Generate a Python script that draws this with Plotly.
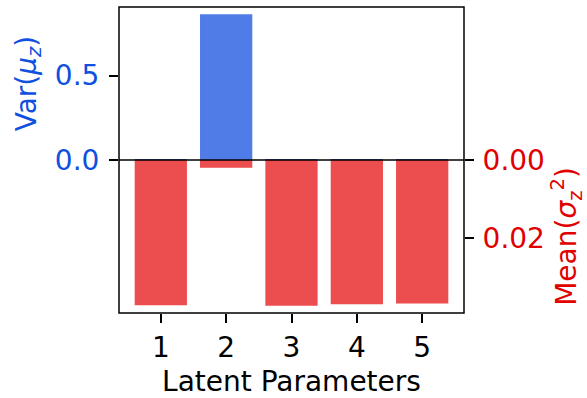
import plotly.graph_objects as go

# Latent dimension indices
latents = [1, 2, 3, 4, 5]
# Variance of the posterior means per latent dimension
var_mu = [0.0004, 0.863, 0.0003, 0.0004, 0.0003]
# Mean posterior variance per latent dimension
mean_sigma2 = [0.0374, 0.0020, 0.0375, 0.0371, 0.0369]

x_tick_labels = ["1", "2", "3", "4", "5"]
left_ticks = [0.0, 0.5]
left_tick_labels = ["0.0", "0.5"]
right_ticks = [0.0, 0.02]
right_tick_labels = ["0.00", "0.02"]

BLUE_BAR = "#507CE8"
RED_BAR = "#EC4D4F"
BLUE_TXT = "#1050E0"
RED_TXT = "#E00000"
FONT = "DejaVu Sans"
TICK_SIZE = 28
TITLE_SIZE = 28

# upper panel: Var(mu) growing upwards; lower panel: Mean(sigma^2) growing downwards
lim_left = max(var_mu) * 1.05
lim_right = max(mean_sigma2) * 1.05

fig = go.Figure()
fig.add_trace(go.Bar(x=latents, y=var_mu, width=0.8, marker=dict(color=BLUE_BAR, line=dict(width=0)),
                     yaxis="y", showlegend=False))
fig.add_trace(go.Bar(x=latents, y=mean_sigma2, width=0.8, marker=dict(color=RED_BAR, line=dict(width=0)),
                     yaxis="y2", showlegend=False))

# outer frame and shared zero line
fig.add_shape(type="rect", xref="paper", yref="paper", x0=0, x1=1, y0=0, y1=1,
              line=dict(color="black", width=1.5), layer="above")
fig.add_shape(type="line", xref="paper", x0=0, x1=1, yref="paper", y0=0.5, y1=0.5,
              line=dict(color="black", width=1.6), layer="above")

fig.update_layout(
    width=587, height=398,
    margin=dict(l=119, r=123, t=7, b=85, autoexpand=False),
    paper_bgcolor="white", plot_bgcolor="white",
    barmode="overlay",
    font=dict(family=FONT, size=TICK_SIZE, color="black"),
    xaxis=dict(
        anchor="free", position=0, automargin=False,
        range=[0.36, 5.64], tickvals=latents, ticktext=x_tick_labels,
        ticks="outside", ticklen=9, tickwidth=1.5, tickcolor="black",
        tickfont=dict(size=TICK_SIZE),
        showline=False, showgrid=False, zeroline=False,
        title=dict(text="Latent Parameters", font=dict(size=TITLE_SIZE), standoff=8),
    ),
    yaxis=dict(
        domain=[0.5, 1.0], automargin=False,
        range=[0, lim_left], tickvals=left_ticks, ticktext=left_tick_labels,
        ticks="outside", ticklen=9, tickwidth=1.5, tickcolor="black",
        tickfont=dict(color=BLUE_TXT, size=TICK_SIZE), ticklabelstandoff=4,
        showline=False, showgrid=False, zeroline=False,
        title=dict(text="Var(<i>μ<sub>z</sub></i>)", font=dict(color=BLUE_TXT, size=TITLE_SIZE), standoff=10),
    ),
    yaxis2=dict(
        domain=[0.0, 0.5], anchor="x", side="right", automargin=False,
        range=[lim_right, 0], tickvals=right_ticks, ticktext=right_tick_labels,
        ticks="outside", ticklen=9, tickwidth=1.5, tickcolor="black",
        tickfont=dict(color=RED_TXT, size=TICK_SIZE), ticklabelstandoff=3,
        showline=False, showgrid=False, zeroline=False,
        title=dict(text="Mean(<i>σ</i><sub>z</sub><sup>2</sup>)", font=dict(color=RED_TXT, size=TITLE_SIZE), standoff=12),
    ),
)

fig.write_html("out.html")
